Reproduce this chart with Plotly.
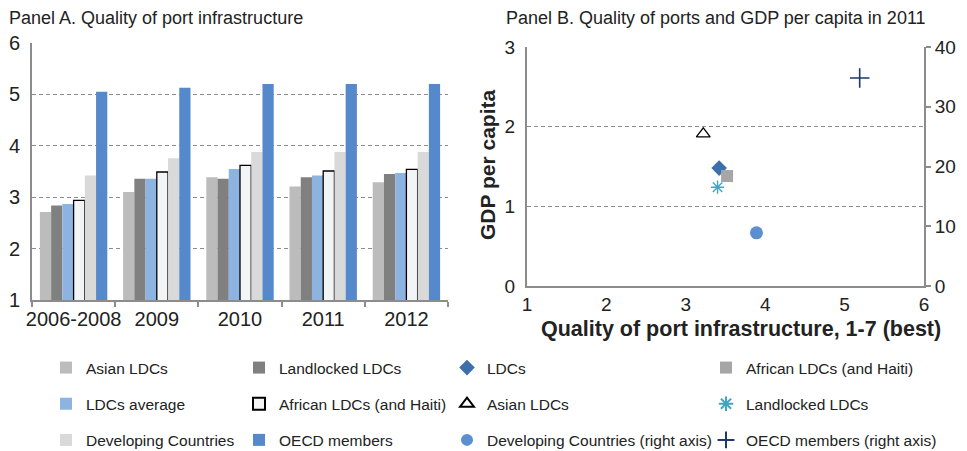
import plotly.graph_objects as go

# ---------------- Data ----------------
periods = ["2006-2008", "2009", "2010", "2011", "2012"]
asian_ldcs = [2.71, 3.10, 3.39, 3.21, 3.29]
landlocked_ldcs = [2.84, 3.36, 3.36, 3.39, 3.45]
ldcs_average = [2.87, 3.36, 3.55, 3.42, 3.47]
african_ldcs = [2.94, 3.49, 3.62, 3.51, 3.54]
developing = [3.42, 3.76, 3.88, 3.88, 3.88]
oecd = [5.05, 5.13, 5.20, 5.20, 5.20]

# Panel B: (quality of port infrastructure, GDP per capita)
b_ldcs = (3.42, 1.48)
b_african = (3.52, 1.38)
b_asian = (3.22, 1.91)
b_landlocked = (3.40, 1.24)
b_developing = (3.89, 8.9)   # right axis
b_oecd = (5.19, 34.8)        # right axis

OFF = 8  # page body margin
W, H = 967 - OFF, 451 - OFF
FONT = "Liberation Sans, Arial, sans-serif"
GRID = "#8c8c8c"
AXIS = "#8c8c8c"

fig = go.Figure()

bar_series = [
    ("Asian LDCs", asian_ldcs, "#bcbcbc", None, "legend"),
    ("Landlocked LDCs", landlocked_ldcs, "#808080", None, "legend2"),
    ("LDCs average", ldcs_average, "#8db3e0", None, "legend"),
    ("African LDCs (and Haiti)", african_ldcs, "#f3f4f6", "#000000", "legend2"),
    ("Developing Countries", developing, "#d9d9d9", None, "legend"),
    ("OECD members", oecd, "#5589cb", None, "legend2"),
]
for i, (name, vals, col, lc, lg) in enumerate(bar_series):
    fig.add_trace(go.Bar(
        x=periods, y=vals, name=name, xaxis="x", yaxis="y",
        marker=dict(color=col, line=dict(color=lc if lc else col, width=1.3 if lc else 0)),
        legend=lg, legendgroup=name,
    ))

def sc(name, pt, symbol, color, size, lg, yaxis="y2", open_=False, lw=1.5):
    m = dict(symbol=symbol, size=size, color=color)
    if open_:
        m["line"] = dict(color=color, width=lw)
    fig.add_trace(go.Scatter(
        x=[pt[0]], y=[pt[1]], name=name, mode="markers", xaxis="x2", yaxis=yaxis,
        marker=m, legend=lg, legendgroup=name,
    ))

sc("LDCs", b_ldcs, "diamond", "#3d6fab", 12, "legend3")
sc("African LDCs (and Haiti)", b_african, "square", "#a6a6a6", 12, "legend4")
sc("Asian LDCs", b_asian, "triangle-up-open", "#000000", 12, "legend3", open_=True, lw=1.3)
sc("Landlocked LDCs", b_landlocked, "asterisk-open", "#3fa6c0", 11, "legend4", open_=True, lw=1.4)
sc("Developing Countries (right axis)", b_developing, "circle", "#5b8fd0", 13, "legend3", yaxis="y3")
sc("OECD members (right axis)", b_oecd, "cross-thin-open", "#1f3864", 14, "legend4", yaxis="y3", open_=True, lw=1.6)

# ---------------- Layout (positions given in screen px) ----------------
A_L, A_R, A_T, A_B = 32, 448, 43, 300
B_L, B_R, B_T, B_B = 527, 924, 47, 286

L = A_L - OFF
T = A_T - OFF
Bm = H - (A_B - OFF)
R = W - (B_R - OFF)
pw = W - L - R
ph = H - T - Bm

def fx(sx):
    return (sx - OFF - L) / pw

def fy(sy):
    return (H - Bm - (sy - OFF)) / ph

tickfont = dict(family=FONT, size=20, color="#222")
tickfontB = dict(family=FONT, size=19, color="#222")
legfont = dict(family=FONT, size=15.5, color="#222")

def leg(sx, sy):
    return dict(
        xref="container", yref="container", x=(sx - OFF) / W, y=1 - (sy - OFF) / H,
        xanchor="left", yanchor="top", orientation="v", bgcolor="rgba(0,0,0,0)",
        font=legfont, tracegroupgap=13, itemsizing="constant", traceorder="grouped",
    )

fig.update_layout(
    width=W, height=H,
    margin=dict(l=L, r=R, t=T, b=Bm, autoexpand=False),
    paper_bgcolor="white", plot_bgcolor="white",
    font=dict(family=FONT, color="#222"),
    barmode="group", bargap=0.19, bargroupgap=0,
    showlegend=True,
    legend=leg(46, 351),
    legend2=leg(239, 351),
    legend3=leg(447, 351),
    legend4=leg(706, 351),
    xaxis=dict(
        domain=[0, fx(A_R)], type="category", showgrid=False,
        showline=True, linecolor=AXIS, linewidth=2,
        ticks="outside", tickson="boundaries", ticklen=5, tickcolor=AXIS, tickwidth=1.5,
        tickfont=tickfont, tickangle=0, anchor="y",
    ),
    yaxis=dict(
        domain=[0, 1], range=[1, 6], dtick=1, tick0=1,
        showgrid=True, gridcolor=GRID, griddash="4px,3px", gridwidth=1,
        showline=True, linecolor=AXIS, linewidth=2, ticks="", zeroline=False,
        tickfont=tickfont, anchor="x", ticklabelstandoff=6,
    ),
    xaxis2=dict(
        domain=[fx(B_L), 1], range=[1, 6], dtick=1, tick0=1,
        showgrid=False, showline=True, linecolor=AXIS, linewidth=2, zeroline=False,
        ticks="", tickfont=tickfontB, tickangle=0, anchor="y2",
    ),
    yaxis2=dict(
        domain=[fy(B_B), fy(B_T)], range=[0, 3], dtick=1, tick0=0,
        showgrid=True, gridcolor=GRID, griddash="4px,3px", gridwidth=1,
        showline=True, linecolor=AXIS, linewidth=2, ticks="", zeroline=False,
        tickfont=tickfontB, anchor="x2", ticklabelstandoff=6,
    ),
    yaxis3=dict(
        overlaying="y2", side="right", range=[0, 40], dtick=10, tick0=0,
        showgrid=False, showline=True, linecolor=AXIS, linewidth=2, zeroline=False,
        ticks="outside", ticklen=5, tickcolor=AXIS, tickwidth=1.5,
        tickfont=tickfontB, anchor="x2",
    ),
    annotations=[
        dict(text="Panel A. Quality of port infrastructure", xref="paper", yref="paper",
             x=fx(7), y=fy(18), xanchor="left", yanchor="middle", showarrow=False,
             font=dict(family=FONT, size=18, color="#222")),
        dict(text="Panel B. Quality of ports and GDP per capita in 2011", xref="paper", yref="paper",
             x=fx(504), y=fy(18), xanchor="left", yanchor="middle", showarrow=False,
             font=dict(family=FONT, size=18, color="#222")),
        dict(text="<b>Quality of port infrastructure, 1-7 (best)</b>", xref="paper", yref="paper",
             x=fx(741), y=fy(329), xanchor="center", yanchor="middle", showarrow=False,
             font=dict(family=FONT, size=21.5, color="#222")),
        dict(text="<b>GDP per capita</b>", xref="paper", yref="paper", textangle=-90,
             x=fx(487), y=fy(165), xanchor="center", yanchor="middle", showarrow=False,
             font=dict(family=FONT, size=21, color="#222")),
    ],
)

fig.write_html("out.html")
